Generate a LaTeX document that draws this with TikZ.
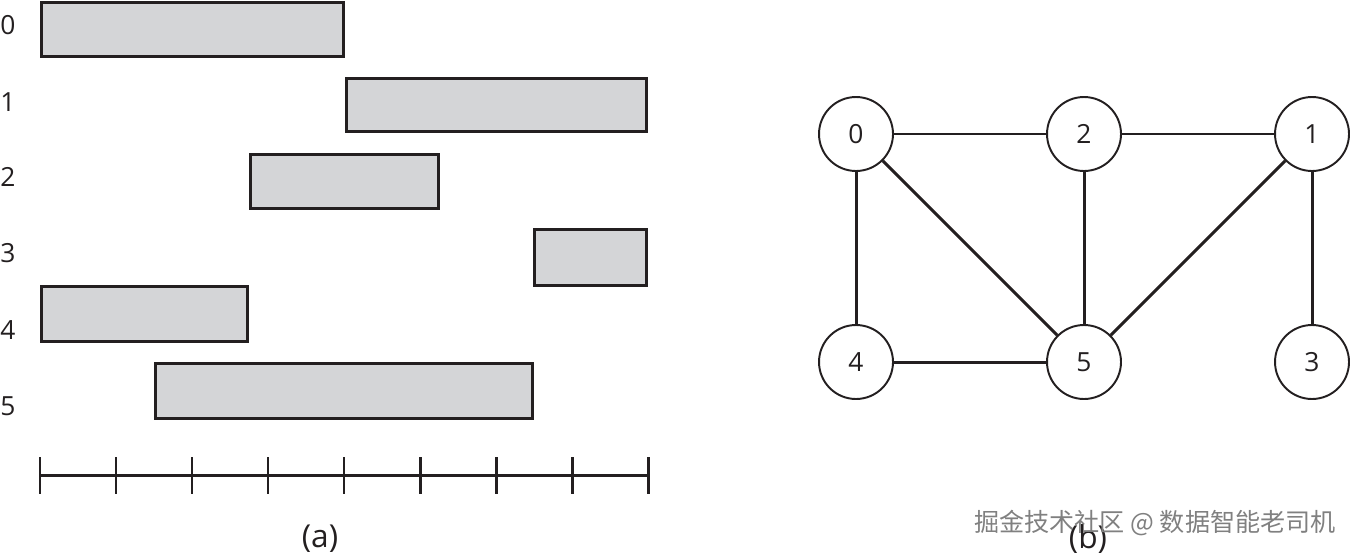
\documentclass[tikz,border=0pt]{standalone}
\usepackage{fontspec}
\setmainfont{Open Sans}
\newfontfamily\cjk{Noto Sans CJK SC}
\definecolor{balkengrau}{RGB}{212,213,215}
\definecolor{strich}{RGB}{35,31,32}
\begin{document}
\begin{tikzpicture}[x=0.02cm,y=-0.02cm,
  balken/.style={draw=strich,fill=balkengrau,line width=1.7pt},
  achse/.style={draw=strich,line width=1.7pt},
  knoten/.style={circle,draw=strich,line width=1.1pt,minimum size=1.48cm,inner sep=0pt,
    text=strich,font=\fontsize{15}{18}\selectfont},
  kante/.style={draw=strich,line width=1.7pt},
  zahl/.style={text=strich,font=\fontsize{15}{18}\selectfont},
  titel/.style={text=strich,font=\fontsize{18}{22}\selectfont}]
  \useasboundingbox (0,0) rectangle (1351,558);
%Intervalle
  \draw[balken] (41.5,2.5) rectangle (343.5,56.5);
  \draw[balken] (346.5,78.5) rectangle (646.5,131.5);
  \draw[balken] (250.5,154.5) rectangle (438.5,208.5);
  \draw[balken] (534.5,229.5) rectangle (646.5,285.5);
  \draw[balken] (41.5,286.5) rectangle (247.5,341.5);
  \draw[balken] (155.5,363.5) rectangle (532.5,418.5);
  \draw (8,25) node[zahl] (z0) {0};
  \draw (8,102) node[zahl] (z1) {1};
  \draw (8,177) node[zahl] (z2) {2};
  \draw (8,253) node[zahl] (z3) {3};
  \draw (8,330) node[zahl] (z4) {4};
  \draw (8,406) node[zahl] (z5) {5};
%Achse
  \draw[achse] (40,475) -- (648,475);
  \draw[achse] (40,457) -- (40,494);
  \draw[achse] (116,457) -- (116,494);
  \draw[achse] (192,457) -- (192,494);
  \draw[achse] (268,457) -- (268,494);
  \draw[achse] (344,457) -- (344,494);
  \draw[achse] (420,457) -- (420,494);
  \draw[achse] (496,457) -- (496,494);
  \draw[achse] (572,457) -- (572,494);
  \draw[achse] (648,457) -- (648,494);
  \draw (320,539) node[titel] (ta) {(a)};
%Graph
  \node[knoten] (k0) at (856,134) {0};
  \node[knoten] (k2) at (1084,134) {2};
  \node[knoten] (k1) at (1312,134) {1};
  \node[knoten] (k4) at (856,362) {4};
  \node[knoten] (k5) at (1084,362) {5};
  \node[knoten] (k3) at (1312,362) {3};
  \draw[kante] (k0) -- (k2);
  \draw[kante] (k2) -- (k1);
  \draw[kante] (k0) -- (k4);
  \draw[kante] (k0) -- (k5);
  \draw[kante] (k2) -- (k5);
  \draw[kante] (k1) -- (k5);
  \draw[kante] (k1) -- (k3);
  \draw[kante] (k4) -- (k5);
  \draw (1088,539) node[titel] (tb) {(b)};
%Wasserzeichen
  \draw (1155,523) node[text=gray] (wz)
    {\cjk\fontsize{14.3}{17}\selectfont 掘金技术社区 @ 数据智能老司机};
\end{tikzpicture}
\end{document}
